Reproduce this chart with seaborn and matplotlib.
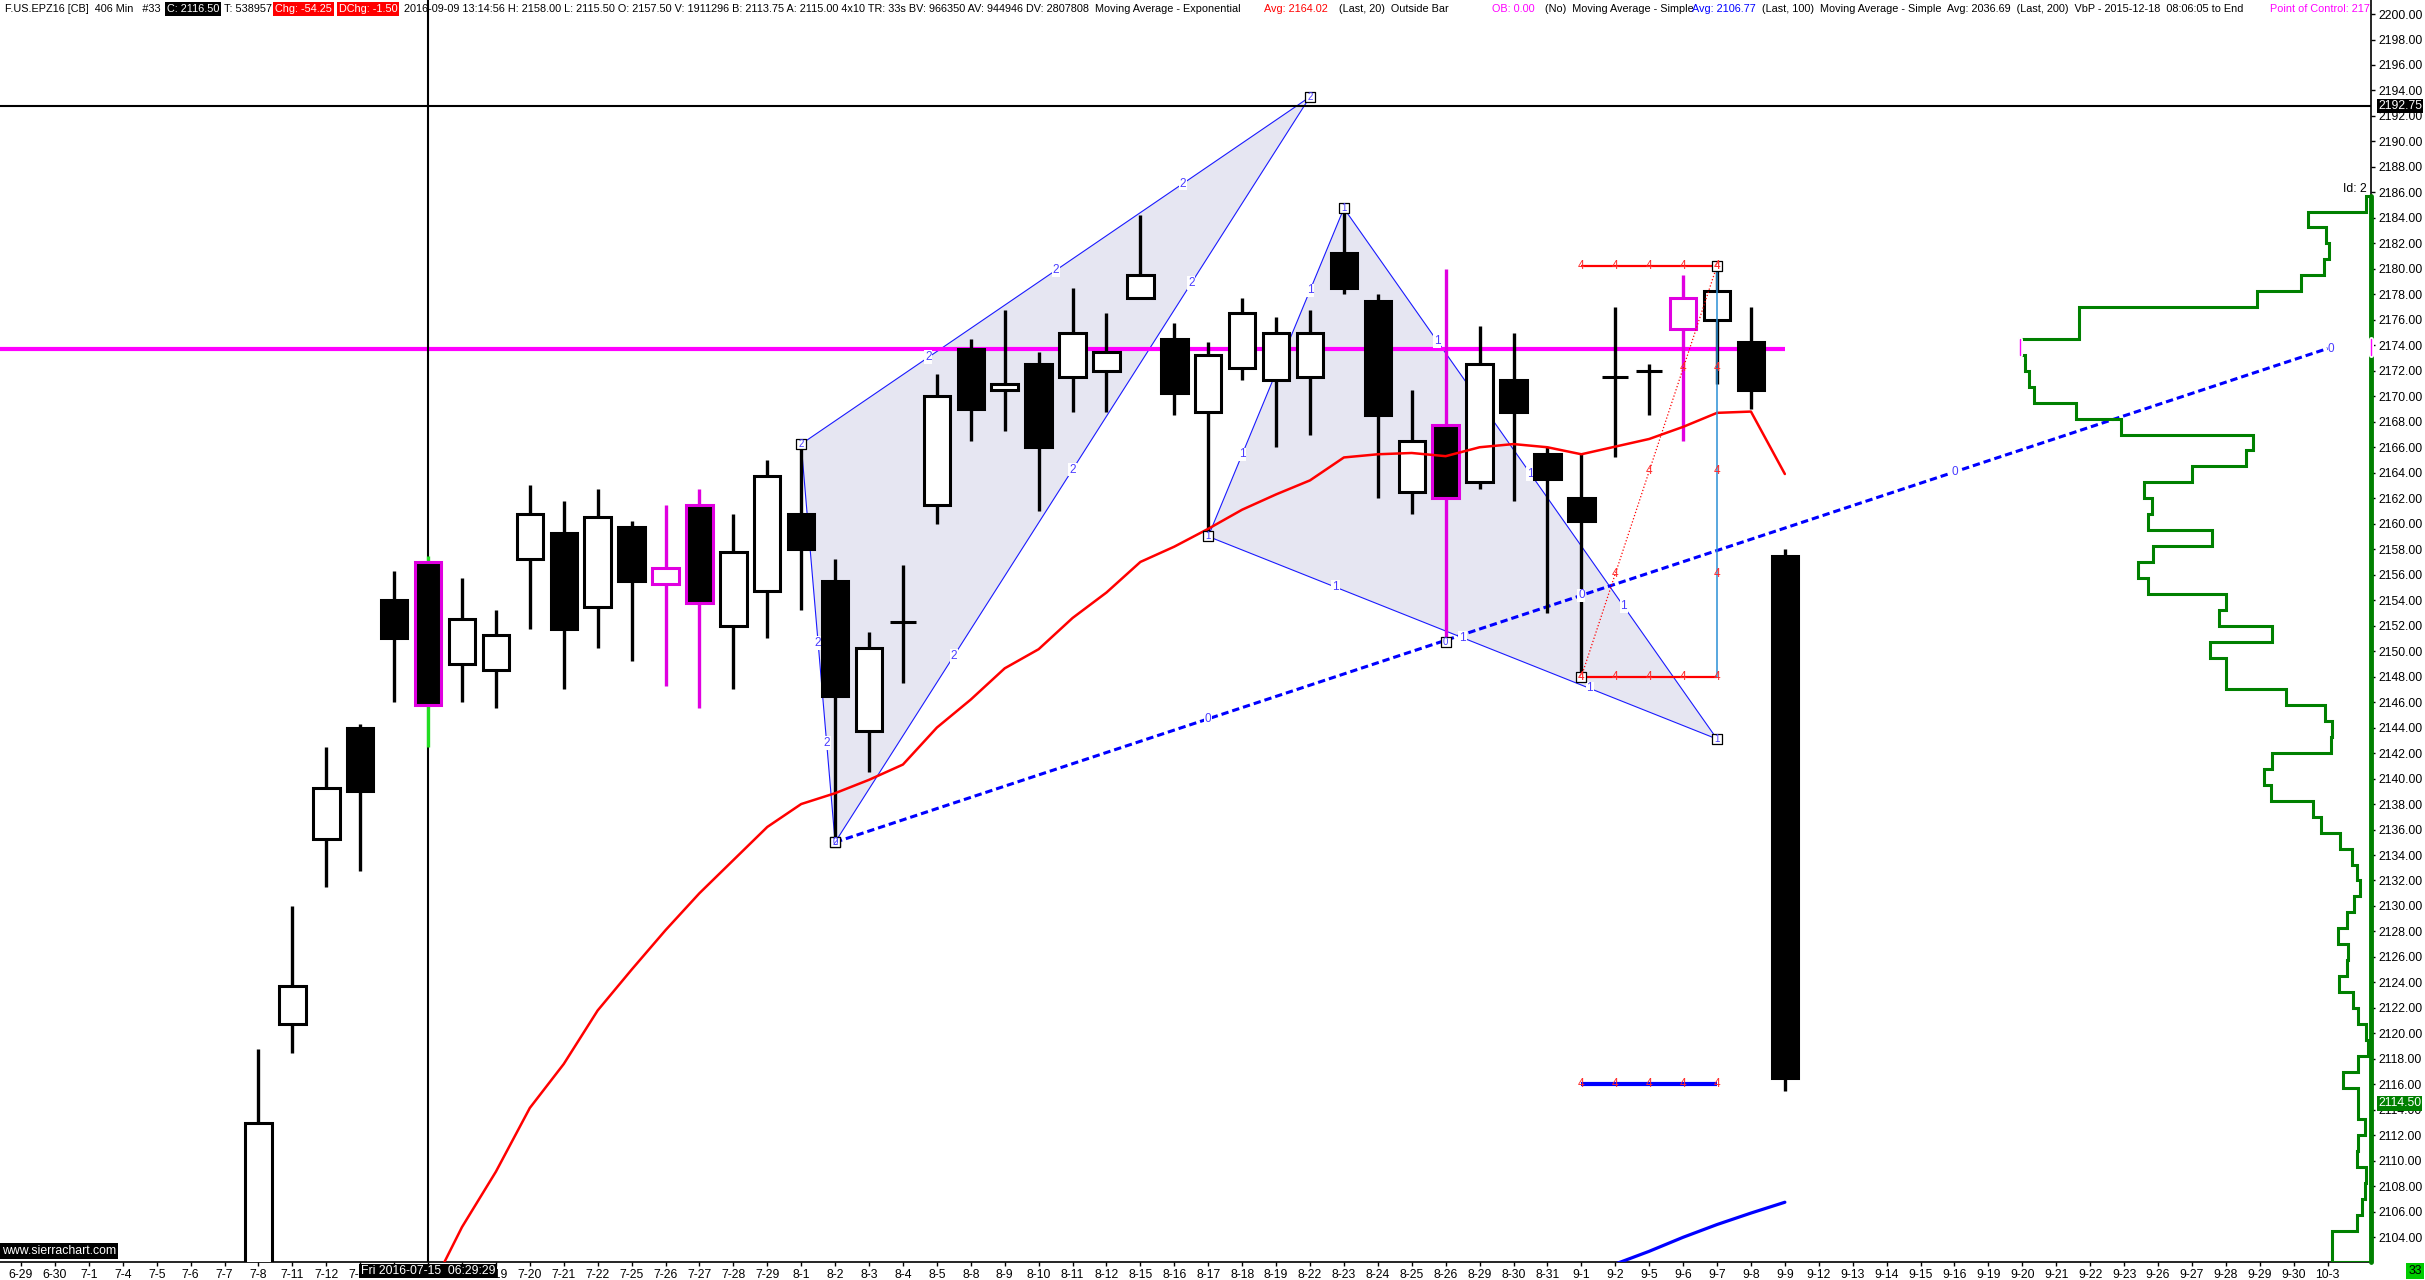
import matplotlib
matplotlib.use("Agg")
import matplotlib.pyplot as plt
import matplotlib.transforms as mtransforms
import numpy as np
import pandas as pd
import seaborn as sns

# ---------------- data ----------------
date_labels = ['6-29', '6-30', '7-1', '7-4', '7-5', '7-6', '7-7', '7-8', '7-11', '7-12',
               '7-13', '7-14', '7-15', '7-18', '7-19', '7-20', '7-21', '7-22', '7-25', '7-26',
               '7-27', '7-28', '7-29', '8-1', '8-2', '8-3', '8-4', '8-5', '8-8', '8-9',
               '8-10', '8-11', '8-12', '8-15', '8-16', '8-17', '8-18', '8-19', '8-22', '8-23',
               '8-24', '8-25', '8-26', '8-29', '8-30', '8-31', '9-1', '9-2', '9-5', '9-6',
               '9-7', '9-8', '9-9', '9-12', '9-13', '9-14', '9-15', '9-16', '9-19', '9-20',
               '9-21', '9-22', '9-23', '9-26', '9-27', '9-28', '9-29', '9-30', '10-3']
hidden_labels = ['7-14', '7-15', '7-18']   # covered by the crosshair date box

candle_dates = date_labels[7:53]
opens = [2098.0, 2120.75, 2135.25, 2144.0, 2154.0, 2157.0, 2149.0, 2148.5, 2157.25, 2159.25,
         2153.5, 2159.75, 2155.25, 2161.5, 2152.0, 2154.75, 2160.75, 2155.5, 2143.75, 2152.25,
         2161.5, 2173.75, 2170.5, 2172.5, 2171.5, 2172.0, 2177.75, 2174.5, 2168.75, 2172.25,
         2171.25, 2171.5, 2181.25, 2177.5, 2162.5, 2167.75, 2163.25, 2171.25, 2165.5, 2162.0,
         2171.5, 2172.0, 2175.25, 2176.0, 2174.25, 2157.5]
highs = [2118.75, 2130.0, 2142.5, 2144.25, 2156.25, 2157.5, 2155.75, 2153.25, 2163.0, 2161.75,
         2162.75, 2160.25, 2161.5, 2162.75, 2160.75, 2165.0, 2166.25, 2157.25, 2151.5, 2156.75,
         2171.75, 2174.5, 2176.75, 2173.5, 2178.5, 2176.5, 2184.25, 2175.75, 2174.25, 2177.75,
         2176.25, 2176.75, 2184.75, 2178.0, 2170.5, 2180.0, 2175.5, 2175.0, 2166.0, 2165.5,
         2177.0, 2172.5, 2179.5, 2180.25, 2177.0, 2158.0]
lows = [2095.0, 2118.5, 2131.5, 2132.75, 2146.0, 2142.5, 2146.0, 2145.5, 2151.75, 2147.0,
        2150.25, 2149.25, 2147.25, 2145.5, 2147.0, 2151.0, 2153.25, 2135.0, 2140.5, 2147.5,
        2160.0, 2166.5, 2167.25, 2161.0, 2168.75, 2168.75, 2177.75, 2168.5, 2159.0, 2171.25,
        2166.0, 2167.0, 2178.0, 2162.0, 2160.75, 2150.75, 2162.75, 2161.75, 2153.0, 2148.0,
        2165.25, 2168.5, 2166.5, 2171.0, 2169.0, 2115.5]
closes = [2113.0, 2123.75, 2139.25, 2139.0, 2151.0, 2145.75, 2152.5, 2151.25, 2160.75, 2151.75,
          2160.5, 2155.5, 2156.5, 2153.75, 2157.75, 2163.75, 2158.0, 2146.5, 2150.25, 2152.25,
          2170.0, 2169.0, 2171.0, 2166.0, 2175.0, 2173.5, 2179.5, 2170.25, 2173.25, 2176.5,
          2175.0, 2175.0, 2178.5, 2168.5, 2166.5, 2162.0, 2172.5, 2168.75, 2163.5, 2160.25,
          2171.5, 2172.0, 2177.75, 2178.25, 2170.5, 2116.5]
outside_bars = ['7-15', '7-26', '7-27', '8-26', '9-6']

ema_dates = date_labels[12:53]
ema20 = [2099.5, 2104.8, 2109.15, 2114.15, 2117.6, 2121.8, 2125.0, 2128.1, 2131.0, 2133.6,
         2136.2, 2138.0, 2138.85, 2139.9, 2141.1, 2144.0, 2146.2, 2148.65, 2150.15, 2152.6,
         2154.6, 2157.0, 2158.2, 2159.6, 2161.1, 2162.3, 2163.4, 2165.2, 2165.45, 2165.55,
         2165.3, 2166.0, 2166.25, 2166.0, 2165.45, 2166.05, 2166.65, 2167.6, 2168.7, 2168.8,
         2163.9]
sma_dates = date_labels[46:53]
sma100 = [2100.6, 2101.9, 2102.9, 2104.0, 2105.0, 2105.9, 2106.75]

poc_price = 2173.75
cross_price = 2192.75
cross_date = '7-15'
last_price = 2114.50

# drawing anchors (date, price)
pat2_dates = ['8-1', '8-2', '8-22']
pat2_prices = [2166.25, 2135.0, 2193.5]
pat1_dates = ['8-17', '8-23', '9-7']
pat1_prices = [2159.0, 2184.75, 2143.1]
zero_dates = ['8-2', '10-3']
zero_prices = [2135.0, 2173.75]
zero_anchor = ('8-26', 2150.75)
pat4_dates = ['9-1', '9-7']
pat4_prices = [2148.0, 2180.25]
target_price = 2116.0

# volume by price (relative, POC = 100), bins of 1.25 starting at 2103.25
vbp_start = 2103.25
vbp_step = 1.25
vbp_volume = [11.2, 4.1, 2.5, 1.7, 1.3, 4.1, 3.6, 1.7, 3.8, 3.8,
              7.9, 3.8, 0.8, 1.3, 3.8, 5.0, 9.1, 6.7, 6.5, 9.5,
              6.9, 4.8, 3.1, 4.1, 5.5, 8.8, 14.2, 16.4, 28.6, 30.4,
              28.2, 11.5, 11.2, 13.1, 24.2, 41.4, 41.4, 45.8, 28.2, 43.2,
              41.4, 63.4, 66.5, 62.1, 45.4, 63.4, 62.5, 64.8, 51.1, 35.7,
              33.5, 71.3, 84.1, 96.0, 97.4, 98.7, 100.0, 83.3, 83.3, 32.6,
              19.9, 13.4, 12.0, 12.8, 17.9, 1.4]

# ---------------- style ----------------
sns.set_theme(style="white")
plt.rcParams['font.family'] = ['Liberation Sans', 'DejaVu Sans']
plt.rcParams['axes.unicode_minus'] = False
FS = 7.8
TICK_FS = 8.8
MAG = '#ff00ff'
LBL_BLUE = '#4a3cff'

W, H = 2425, 1280
fig = plt.figure(figsize=(W / 100, H / 100), dpi=100)
fig.patch.set_facecolor('white')
ax = fig.add_axes([0, (H - 1262) / H, 2371 / W, 1262 / H])
ax.set_facecolor('white')
ax.set_xlim(-0.62, 69.28)
ax.set_ylim(2102.06, 2201.1)
ax.set_axisbelow(True)

pos = {d: i for i, d in enumerate(date_labels)}

# ---------------- axes ----------------
ax.set_xticks(range(len(date_labels)))
ax.set_xticklabels(['' if d in hidden_labels else d for d in date_labels])
ax.yaxis.tick_right()
yt = np.arange(2104, 2201, 2)
ax.set_yticks(yt)
ax.set_yticklabels([f"{v:.2f}" for v in yt])
ax.tick_params(axis='both', direction='out', length=3, width=1, colors='black',
               labelsize=TICK_FS, pad=2, bottom=True, right=True, left=False)
ax.grid(False)
for s in ['top', 'left']:
    ax.spines[s].set_visible(False)
for s in ['right', 'bottom']:
    ax.spines[s].set_color('black')
    ax.spines[s].set_linewidth(1.2)

# ---------------- drawings below candles ----------------
p2x = [pos[d] for d in pat2_dates]
p1x = [pos[d] for d in pat1_dates]
ax.fill(p2x, pat2_prices, color='#e6e6f2', lw=0, zorder=1)
ax.fill(p1x, pat1_prices, color='#e6e6f2', lw=0, zorder=1)
ax.plot(p2x + p2x[:1], pat2_prices + pat2_prices[:1], color='#1a1aff', lw=0.8, zorder=2)
ax.plot(p1x + p1x[:1], pat1_prices + pat1_prices[:1], color='#1a1aff', lw=0.8, zorder=2)

zx = [pos[d] for d in zero_dates]
ax.plot(zx, zero_prices, color='#0000ff', lw=2.2, dashes=(2.4, 1.3), zorder=2.5)

ax.hlines(poc_price, ax.get_xlim()[0], pos['9-9'], color=MAG, lw=3, zorder=3)
ax.axhline(cross_price, color='black', lw=1.5, zorder=3.5)
ax.axvline(pos[cross_date], color='black', lw=1.5, zorder=3.5)

# ---------------- candles ----------------
df = pd.DataFrame({'pos': [pos[d] for d in candle_dates], 'open': opens, 'high': highs,
                   'low': lows, 'close': closes, 'date': candle_dates})
face = np.where(df['close'] > df['open'], 'white', 'black')
edge = ['#e000e0' if d in outside_bars else 'black' for d in df['date']]
wick = ['#e000e0' if d in outside_bars else 'black' for d in df['date']]
wick[candle_dates.index(cross_date)] = '#22dd22'
ax.vlines(df['pos'], df['low'], df['high'], colors=wick, lw=2.4, zorder=4)
ax.bar(df['pos'], df['close'] - df['open'], bottom=df['open'], width=0.78,
       color=face, edgecolor=edge, linewidth=2.2, zorder=5)

# moving averages
sns.lineplot(x=[pos[d] for d in ema_dates], y=ema20, color='#ff0000', lw=1.8,
             ax=ax, zorder=6, legend=False)
sns.lineplot(x=[pos[d] for d in sma_dates], y=sma100, color='#0000ff', lw=2.3,
             ax=ax, zorder=6, legend=False)

# ---------------- pattern 4 ----------------
x4 = [pos[d] for d in pat4_dates]
lo4, hi4 = pat4_prices
ax.hlines([hi4, lo4], x4[0], x4[1], color='#ff0000', lw=1.6, zorder=6)
ax.plot(x4, [lo4, hi4], color='#ff0000', lw=0.9, ls=':', zorder=6)
ax.plot([x4[1], x4[1]], [lo4, hi4], color='#2a8fd6', lw=1.1, zorder=6)
ax.hlines(target_price, x4[0], x4[1], color='#0000ff', lw=3, zorder=6)

lbl_kw = dict(ha='center', va='center', fontsize=8.5, clip_on=True)
for xi in range(x4[0], x4[1] + 1):
    for yv in (hi4, lo4, target_price):
        ax.text(xi, yv, '4', color='#ff2a2a', zorder=9, **lbl_kw)
for f in (0.25, 0.5, 0.75):
    yv = lo4 + (hi4 - lo4) * f
    ax.text(x4[0] + (x4[1] - x4[0]) * f, yv, '4', color='#ff2a2a', zorder=9, **lbl_kw)
    ax.text(x4[1], yv, '4', color='#ff2a2a', zorder=9, **lbl_kw)


def edge_labels(xa, ya, xb, yb, txt, z):
    for f in (0.25, 0.5, 0.75):
        ax.text(xa + (xb - xa) * f, ya + (yb - ya) * f, txt, color=LBL_BLUE, zorder=z,
                bbox=dict(facecolor='white', edgecolor='none', pad=0.6), **lbl_kw)


for pts, txt in ((list(zip(p2x, pat2_prices)), '2'), (list(zip(p1x, pat1_prices)), '1')):
    for k in range(3):
        (xa, ya), (xb, yb) = pts[k], pts[(k + 1) % 3]
        edge_labels(xa, ya, xb, yb, txt, 3.8)
edge_labels(zx[0], zero_prices[0], zx[1], zero_prices[1], '0', 9)
ax.text(zx[1], zero_prices[1], '0', color=LBL_BLUE, ha='left', va='center',
        fontsize=8.5, zorder=9)

# anchor boxes
boxes = ([(x, y, '2') for x, y in zip(p2x, pat2_prices)] +
         [(x, y, '1') for x, y in zip(p1x, pat1_prices)] +
         [(zx[0], zero_prices[0], '0'), (pos[zero_anchor[0]], zero_anchor[1], '0')] +
         [(x, y, '4') for x, y in zip(x4, pat4_prices)])
ax.scatter([b[0] for b in boxes], [b[1] for b in boxes], marker='s', s=60,
           facecolor='white', edgecolor='black', linewidth=0.9, zorder=8)
for bx, by, bt in boxes:
    ax.text(bx, by, bt, color='#ff2a2a' if bt == '4' else LBL_BLUE, ha='center',
            va='center', fontsize=7, zorder=9)

# ---------------- volume profile ----------------
ax2 = fig.add_axes(ax.get_position(), frameon=False)
ax2.set_ylim(ax.get_ylim())
ax2.set_xlim(100 * 2371 / 351, 0)
ax2.axis('off')
edges = vbp_start + vbp_step * np.arange(len(vbp_volume) + 1)
edges[0] = ax.get_ylim()[0]
xs = [0.0]
ys = [edges[0]]
for k, v in enumerate(vbp_volume):
    xs += [v, v]
    ys += [edges[k], edges[k + 1]]
xs.append(0.0)
ys.append(edges[-1])
ax2.plot(xs, ys, color='#008000', lw=2.2, solid_joinstyle='miter')
ax2.plot([0, 0], [edges[0], edges[-1]], color='#008000', lw=3.5, clip_on=False)
kp = int((poc_price - vbp_start) // vbp_step)
for xv in (vbp_volume[kp], 0):
    ax2.plot([xv, xv], [edges[kp], edges[kp + 1]], color='white', lw=3.6, clip_on=False)
    ax2.plot([xv, xv], [edges[kp], edges[kp + 1]], color=MAG, lw=1.0, clip_on=False)

# ---------------- texts ----------------
ytr = mtransforms.blended_transform_factory(ax.transAxes, ax.transData)
ax.text(1 + 7 / 2371, cross_price, f"{cross_price:.2f}", transform=ytr, ha='left', va='center',
        color='white', fontsize=TICK_FS, zorder=10, clip_on=False,
        bbox=dict(facecolor='black', edgecolor='none', pad=0.8))
ax.text(1 + 7 / 2371, last_price, f"{last_price:.2f}", transform=ytr, ha='left', va='center',
        color='white', fontsize=TICK_FS, zorder=10, clip_on=False,
        bbox=dict(facecolor='#008000', edgecolor='none', pad=0.8))
ax.text(2367 / 2371, 2185.8, 'Id: 2', transform=ytr, ha='right', va='bottom',
        color='black', fontsize=TICK_FS, zorder=10)

ax.text(pos[cross_date], -9 / 1262, 'Fri 2016-07-15  06:29:29', transform=ax.get_xaxis_transform(),
        ha='center', va='center', color='white', fontsize=TICK_FS, zorder=20, clip_on=False,
        bbox=dict(facecolor='black', edgecolor='none', pad=1.0))

fig.text(2 / W, (H - 1251) / H, 'www.sierrachart.com', ha='left', va='center', color='white',
         fontsize=TICK_FS, bbox=dict(facecolor='black', edgecolor='none', pad=1.5), zorder=20)
fig.text(2415 / W, 9 / H, '33', ha='center', va='center', color='black', fontsize=TICK_FS,
         bbox=dict(facecolor='#00cc00', edgecolor='none', pad=1.5), zorder=20)

header = [
    (5, 'F.US.EPZ16 [CB]  406 Min   #33', 'black', None),
    (167, 'C: 2116.50', 'white', 'black'),
    (224, 'T: 538957', 'black', None),
    (275, 'Chg: -54.25', 'white', '#ff0000'),
    (339, 'DChg: -1.50', 'white', '#ff0000'),
    (404, '2016-09-09 13:14:56 H: 2158.00 L: 2115.50 O: 2157.50 V: 1911296 B: 2113.75 '
          'A: 2115.00 4x10 TR: 33s BV: 966350 AV: 944946 DV: 2807808  Moving Average - Exponential',
     'black', None),
    (1264, 'Avg: 2164.02', '#ff0000', None),
    (1339, '(Last, 20)  Outside Bar', 'black', None),
    (1492, 'OB: 0.00', MAG, None),
    (1545, '(No)  Moving Average - Simple', 'black', None),
    (1692, 'Avg: 2106.77', '#0000ff', None),
    (1762, '(Last, 100)  Moving Average - Simple  Avg: 2036.69  (Last, 200)  '
           'VbP - 2015-12-18  08:06:05 to End', 'black', None),
    (2270, 'Point of Control: 2173.75', MAG, None),
]
for hx, txt, col, bg in header:
    kw = {}
    if bg:
        kw['bbox'] = dict(facecolor=bg, edgecolor='none', pad=1.2)
    ax.text(hx / 2371, 1 - 9 / 1262, txt, transform=ax.transAxes, ha='left', va='center',
            color=col, fontsize=FS, zorder=2, clip_on=True, **kw)

fig.savefig('out.png', dpi=100, facecolor='white')
